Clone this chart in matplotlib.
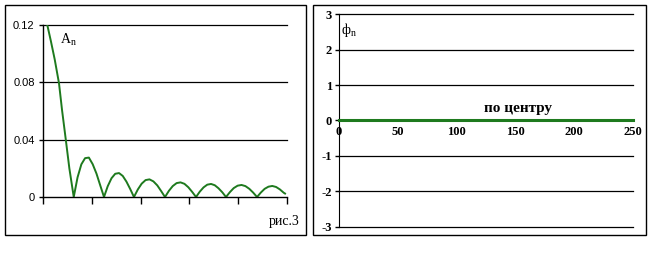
import matplotlib.pyplot as plt
from matplotlib.patches import Rectangle

# Amplitude spectrum (left panel)
amp_x = [0, 2, 4.4, 8, 12, 16.4, 19.5, 23.3, 27, 31.5,
         35.4, 39.3, 43.1, 47.0, 50.9, 54.8, 58.6, 62.5,
         66.3, 70.2, 74.0, 77.9, 81.7, 85.5, 89.4, 93.2,
         97.2, 101.1, 105.1, 109.1, 113.1, 117.1, 121.0, 125.0,
         129.0, 132.9, 136.9, 140.9, 144.9, 148.9, 152.8, 156.8,
         160.6, 164.5, 168.3, 172.2, 176.0, 179.8, 183.7, 187.5,
         191.5, 195.4, 199.4, 203.4, 207.4, 211.4, 215.3, 219.3,
         223.2, 227.1, 231.0, 234.9, 238.8, 242.7, 246.6, 248.0]
amp_y = [0.124, 0.1225, 0.120, 0.109, 0.096, 0.0793, 0.0607, 0.0403, 0.020, 0.0,
         0.0137, 0.0228, 0.0271, 0.0275, 0.0229, 0.0163, 0.0082, 0.0,
         0.0075, 0.0131, 0.0162, 0.0167, 0.0147, 0.0107, 0.0055, 0.0,
         0.0053, 0.0093, 0.0118, 0.0123, 0.0109, 0.0081, 0.0042, 0.0,
         0.0043, 0.0076, 0.0097, 0.0102, 0.0092, 0.0068, 0.0036, 0.0,
         0.0037, 0.0067, 0.0086, 0.0091, 0.0082, 0.0061, 0.0033, 0.0,
         0.0034, 0.0062, 0.0079, 0.0084, 0.0076, 0.0057, 0.0031, 0.0,
         0.0031, 0.0057, 0.0072, 0.0077, 0.0070, 0.0053, 0.0030, 0.0024]
amp_yticks = [0, 0.04, 0.08, 0.12]
amp_ylabels = ['0', '0.04', '0.08', '0.12']

# Phase spectrum (right panel)
phase_x = [0, 250]
phase_y = [0, 0]
phase_xticks = [0, 50, 100, 150, 200, 250]
phase_yticks = [-3, -2, -1, 0, 1, 2, 3]

green = '#1e7a1e'
W, H = 652, 273
fig = plt.figure(figsize=(W / 100, H / 100), dpi=100)

# panel frames
for x0, y0, x1, y1 in [(5, 5, 306, 235), (313, 5, 646, 235)]:
    fig.add_artist(Rectangle((x0 / W, 1 - y1 / H), (x1 - x0) / W, (y1 - y0) / H,
                             transform=fig.transFigure, fill=False,
                             edgecolor='black', linewidth=1))

# Left panel
ax1 = fig.add_axes([43 / W, 1 - 197 / H, 244 / W, 172 / H])
ax1.plot(amp_x, amp_y, color=green, linewidth=1.4)
ax1.set_xlim(0, 250)
ax1.set_ylim(0, 0.12)
ax1.set_yticks(amp_yticks)
ax1.set_yticklabels(amp_ylabels, fontfamily='Liberation Sans', fontsize=8)
ax1.set_xticks([0, 50, 100, 150, 200, 250])
ax1.set_xticklabels([])
ax1.tick_params(axis='x', direction='out', length=5, width=1)
ax1.tick_params(axis='y', direction='out', length=3, width=1, pad=3)
for y in amp_yticks[1:]:
    ax1.axhline(y, color='black', linewidth=0.9, zorder=0, clip_on=False)
for s in ['top', 'right']:
    ax1.spines[s].set_visible(False)
for s in ['left', 'bottom']:
    ax1.spines[s].set_linewidth(1)
ax1.text(17, 0.107, r'$\mathregular{A_n}$', fontfamily='Liberation Serif',
         fontsize=10)
fig.text(300 / W, 1 - 221 / H, 'рис.3', fontfamily='Liberation Serif',
         fontsize=10, ha='right', va='center')

# Right panel
ax2 = fig.add_axes([339 / W, 1 - 226.7 / H, 294 / W, 212.4 / H])
ax2.spines['bottom'].set_position(('data', 0))
ax2.plot(phase_x, phase_y, color=green, linewidth=2.2, zorder=3, clip_on=False)
ax2.set_xlim(0, 250)
ax2.set_ylim(-3, 3)
ax2.set_xticks(phase_xticks)
ax2.set_yticks(phase_yticks)
ax2.set_xticklabels([str(v) for v in phase_xticks], fontfamily='Liberation Serif',
                    fontweight='bold', fontsize=9)
ax2.set_yticklabels([str(v) for v in phase_yticks], fontfamily='Liberation Serif',
                    fontweight='bold', fontsize=9)
for s in ['top', 'right']:
    ax2.spines[s].set_visible(False)
ax2.tick_params(axis='x', length=0, pad=4)
ax2.tick_params(axis='y', direction='out', length=3, width=1, pad=2)
for y in phase_yticks:
    if y != 0:
        ax2.axhline(y, color='black', linewidth=0.9, zorder=0, clip_on=False)
ax2.text(152, 0.35, 'по центру', fontfamily='Liberation Serif', fontweight='bold',
         fontsize=11, ha='center', va='center')
ax2.text(2, 2.45, r'$\mathregular{ф_n}$', fontfamily='Liberation Serif',
         fontsize=10)

fig.savefig('out.png', dpi=100)
